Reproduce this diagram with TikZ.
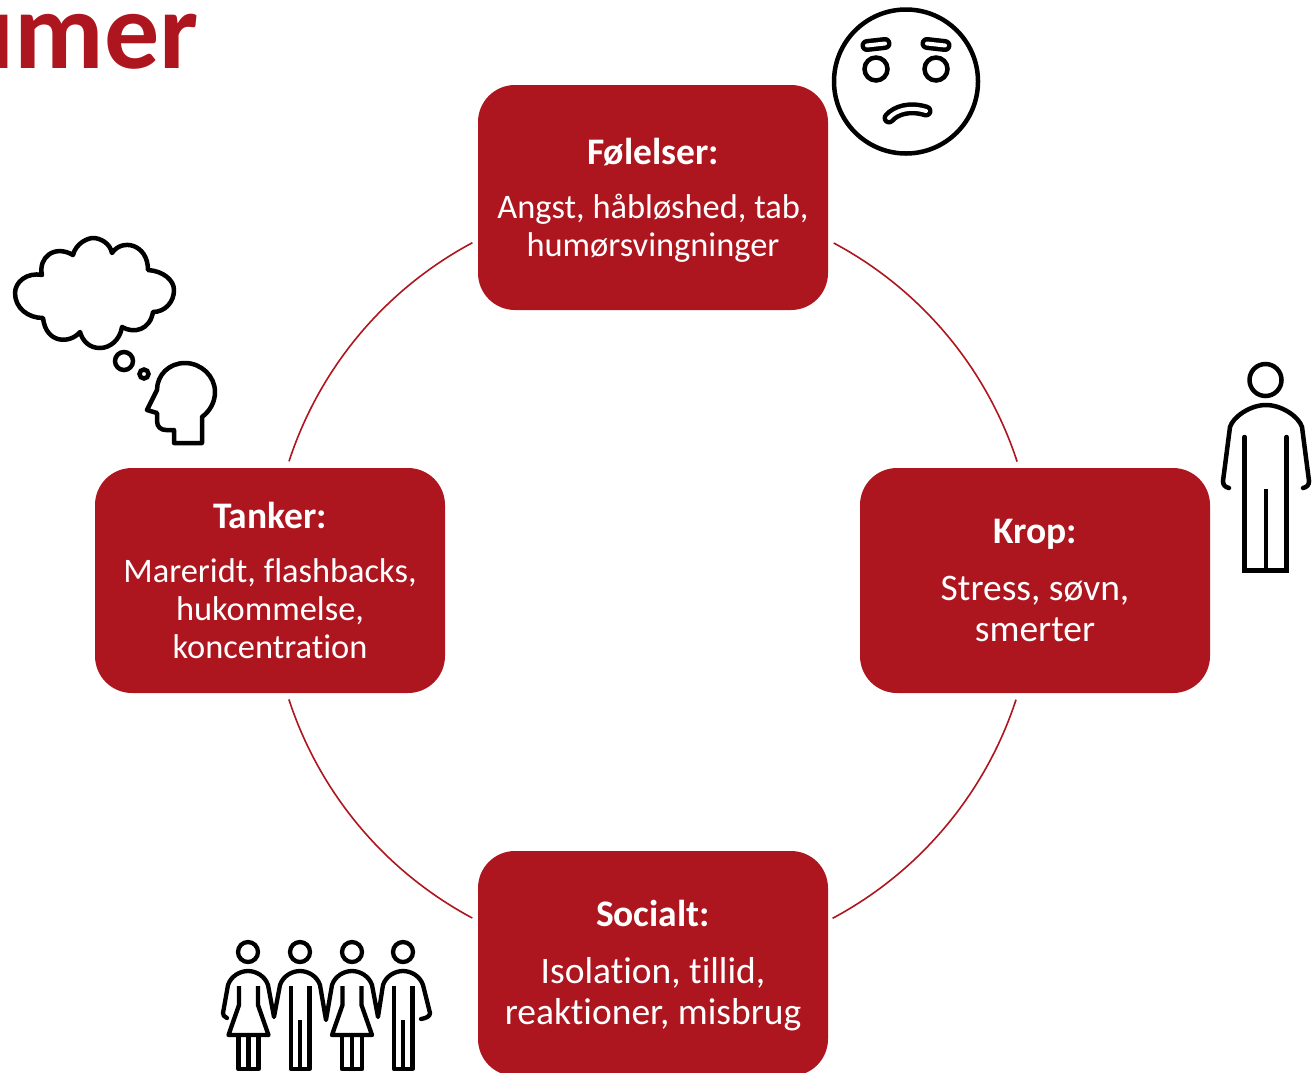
\documentclass[tikz,border=0pt]{standalone}
\usepackage{fontspec}
\setmainfont[Ligatures=NoCommon]{Carlito}
\definecolor{boxred}{HTML}{AE161F}
\newcommand{\headtxt}[1]{{\fontsize{37.5}{38}\selectfont\bfseries #1}}
\tikzset{
  x=1pt,y=-1pt,
  card/.style={fill=boxred,rounded corners=37pt,minimum width=350pt,minimum height=225pt,inner sep=0pt,text=white,align=center},
  bodya/.style={font=\fontsize{34.4}{38}\selectfont},
  bodyb/.style={font=\fontsize{37.5}{41}\selectfont},
  ring/.style={draw=boxred,line width=1.6pt},
  icon/.style={draw=black,line width=4.5pt,fill=none},
  iconthin/.style={draw=black,line width=4.3pt,fill=none,line join=round},
  sausage/.style={draw=black,line width=4.5pt,double=white,double distance=4pt,line cap=round},
}
\begin{document}
\begin{tikzpicture}
\useasboundingbox (0,0) rectangle (1314,1072);
\node[anchor=base east,text=boxred,inner sep=0pt,font=\fontsize{110}{110}\selectfont\bfseries] (title) at (199,68) {umer};

\node[card,bodya] (top) at (653,197.5) {\rule{0pt}{31pt}\headtxt{Følelser:}\\[16pt]Angst, håbløshed, tab,\\humørsvingninger};
\node[card,bodyb] (right) at (1035,580.5) {\headtxt{Krop:}\\[16pt]Stress, søvn,\\smerter};
\node[card,bodya] (left) at (270,580.5) {\headtxt{Tanker:}\\[16pt]Mareridt, flashbacks,\\hukommelse,\\koncentration};
\node[card,bodyb] (bottom) at (653,963.5) {\rule{0pt}{30pt}\headtxt{Socialt:}\\[16pt]Isolation, tillid,\\reaktioner, misbrug};

\coordinate (tr) at ([shift={(5.5,45.5)}]top.east);
\coordinate (rb) at ([shift={(-19,6.5)}]right.south);
\coordinate (bl) at ([shift={(-5.5,-45.5)}]bottom.west);
\coordinate (lt) at ([shift={(19,-6.5)}]left.north);
\draw[ring] (tr) arc[start angle=-61.9,end angle=-18.1,radius=382.5];
\draw[ring] (rb) arc[start angle=18.1,end angle=61.9,radius=382.5];
\draw[ring] (bl) arc[start angle=118.1,end angle=161.9,radius=382.5];
\draw[ring] (lt) arc[start angle=198.1,end angle=241.9,radius=382.5];

% face
\draw[icon] (906,81.5) circle[radius=72];
\draw[icon] (876,69) circle[radius=11.5];
\draw[icon] (936,69) circle[radius=11.5];
\draw[sausage] (867,45.5) -- (885,43.5);
\draw[sausage] (927,43.5) -- (945,45.5);
\draw[sausage] (889,118) .. controls (896,110) and (910,106) .. (926,111);

% person
\draw[icon] (1265.5,380) circle[radius=16];
\draw[icon,line cap=round] (1229,488) .. controls (1225,487) and (1223,485) .. (1223,481) -- (1230,427) .. controls (1233,417) and (1250,405) .. (1266,405) .. controls (1282,405) and (1299,417) .. (1302,427) -- (1309,481) .. controls (1309,485) and (1307,487) .. (1303,488);
\draw[icon,line cap=round] (1244.5,437) -- (1244.5,570.5) -- (1286.5,570.5) -- (1286.5,437);
\draw[icon] (1266,489) -- (1266,570.5);

% group
\foreach \hx in {248,300,352,403}{\draw[iconthin] (\hx,952) circle[radius=10];}
\draw[iconthin,line cap=round]
 (227,1018) .. controls (224,1017) and (223,1015) .. (223,1013) -- (228,985) .. controls (231,976) and (240,971) .. (248,971) .. controls (256,971) and (265,976) .. (268,985) -- (274,1017)
 -- (280,985) .. controls (283,976) and (292,971) .. (300,971) .. controls (308,971) and (317,976) .. (320,985) -- (326,1020)
 -- (332,985) .. controls (335,976) and (344,971) .. (352,971) .. controls (360,971) and (369,976) .. (372,985) -- (378,1017)
 -- (383,985) .. controls (386,976) and (395,971) .. (403,971) .. controls (411,971) and (420,976) .. (423,985) -- (430,1013) .. controls (430,1016) and (427,1018) .. (421,1019);
\foreach \dx in {0,103.5}{
  \begin{scope}[shift={(\dx,0)}]
  \draw[iconthin] (239,986) -- (239,1005) -- (228.5,1035) -- (268.5,1035) -- (258,1005) -- (258,986);
  \draw[iconthin] (238.5,1035) -- (238.5,1069) -- (258.5,1069) -- (258.5,1035);
  \draw[iconthin] (248.5,1035) -- (248.5,1069);
  \end{scope}
}
\foreach \dx in {0,103}{
  \begin{scope}[shift={(\dx,0)}]
  \draw[iconthin] (291,986) -- (291,1069) -- (309.5,1069) -- (309.5,986);
  \draw[iconthin] (300,1020) -- (300,1069);
  \end{scope}
}

% thought
\draw[iconthin,line width=4.5pt]
 (43,318) .. controls (28,318) and (15,308) .. (15,293) .. controls (15,282) and (27,272) .. (42,275)
 .. controls (38,258) and (54,244) .. (73,255)
 .. controls (76,243) and (88,238) .. (93,238) .. controls (100,238) and (110,243) .. (112,253)
 .. controls (122,238) and (148,244) .. (148,270)
 .. controls (163,271) and (174,280) .. (174,290) .. controls (174,302) and (165,312) .. (153,312)
 .. controls (150,330) and (134,334) .. (122,327)
 .. controls (120,340) and (110,348) .. (100,348) .. controls (90,348) and (83,342) .. (80,332)
 .. controls (70,344) and (46,344) .. (43,318) -- cycle;
\draw[icon] (124,361) circle[radius=9];
\draw[icon] (144,374) circle[radius=4.5];
\draw[icon,line join=round] (202,443) -- (202,417) .. controls (210,411) and (215,402) .. (215,392) .. controls (215,376) and (201,363) .. (185,363) .. controls (169,363) and (157,375) .. (157,390) -- (147,410) -- (157,413) -- (157,421) .. controls (157,427) and (161,430) .. (166,430) -- (174,430) -- (174,443) -- cycle;
\end{tikzpicture}
\end{document}
